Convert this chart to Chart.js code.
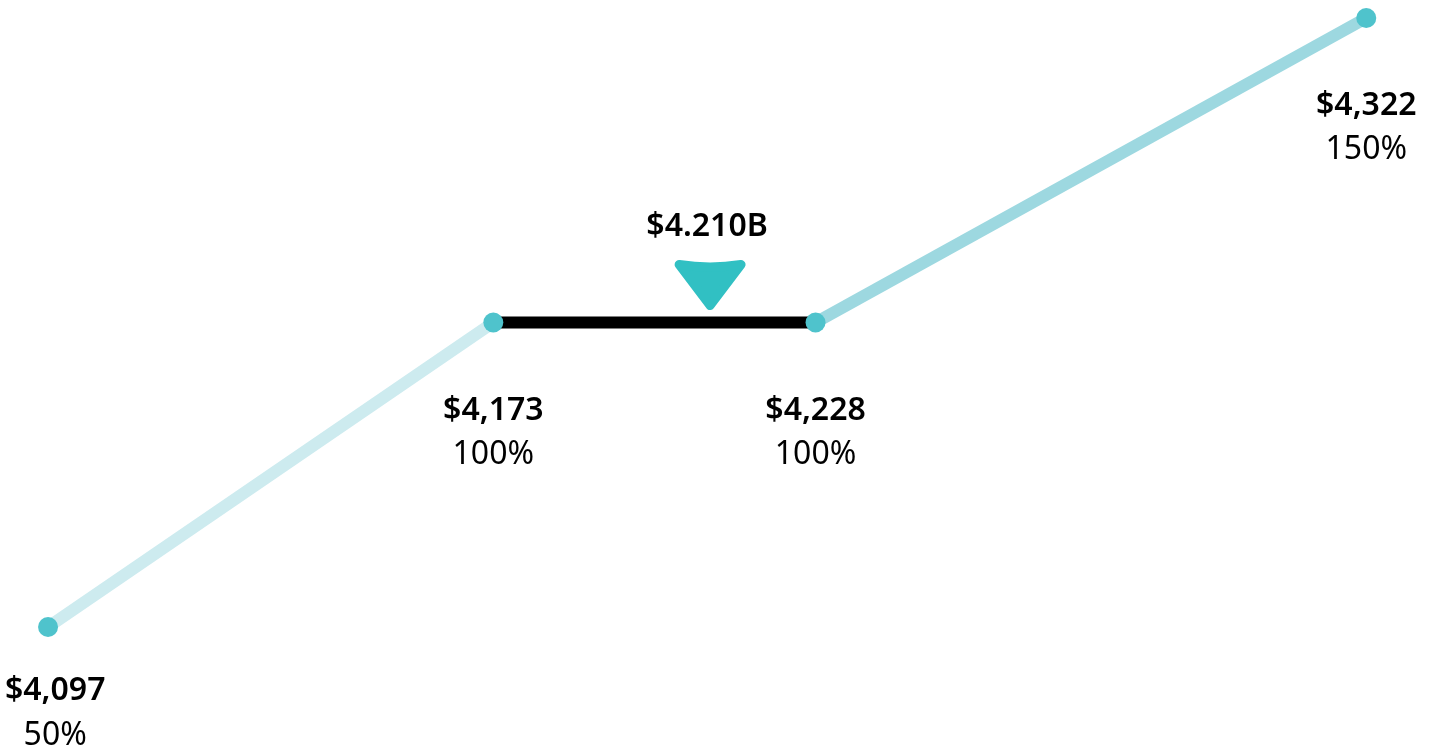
<!DOCTYPE html>
<html>
<head>
<meta charset="utf-8">
<script src="https://cdn.jsdelivr.net/npm/chart.js@4"></script>
<style>
  html, body { margin: 0; padding: 0; background: #fff; }
  #wrap { width: 1436px; height: 748px; }
</style>
</head>
<body>
<div id="wrap"><canvas id="rangeChart" width="1436" height="748"></canvas></div>
<script>
// values
const dollarValues = [4097, 4173, 4228, 4322];      // $M, along x
const percentValues = [50, 100, 100, 150];          // payout %, along y
const dollarLabels = ['$4,097', '$4,173', '$4,228', '$4,322'];
const percentLabels = ['50%', '100%', '100%', '150%'];
const segmentColors = ['#cdebef', '#000000', '#9dd8e0'];
const actualValue = 4210;
const actualLabel = '$4.210B';

const FONT = '"Noto Sans", "Open Sans", sans-serif';

// keep a centred label inside the canvas
function clampX(ctx, text, x, W) {
    const half = ctx.measureText(text).width / 2;
    return Math.max(half + 5, Math.min(W - half - 5, x));
}

// labels under each point + the marker for the actual result
const labelPlugin = {
    id: 'rangeLabels',
    afterDatasetsDraw(chart) {
        const ctx = chart.ctx;
        const meta = chart.getDatasetMeta(0);
        const H = chart.height, W = chart.width;
        ctx.save();
        ctx.textAlign = 'center';
        ctx.textBaseline = 'alphabetic';
        ctx.fillStyle = '#000';
        meta.data.forEach((pt, i) => {
            const b1 = Math.min(pt.y + 97, H - 48);
            const b2 = Math.min(pt.y + 141, H - 3);
            ctx.font = '600 32px ' + FONT;
            const lx = clampX(ctx, dollarLabels[i], pt.x, W);
            ctx.fillText(dollarLabels[i], lx, b1);
            ctx.font = '32px ' + FONT;
            ctx.fillText(percentLabels[i], lx, b2);
        });

        // actual marker: rounded triangle with concave top
        const xs = chart.scales.x, ys = chart.scales.y;
        const mx = xs.getPixelForValue(actualValue);
        const lineY = ys.getPixelForValue(100);
        const tipY = lineY - 12;
        const topY = tipY - 51;
        const hw = 36;
        ctx.fillStyle = '#31c0c3';
        ctx.strokeStyle = '#31c0c3';
        ctx.lineJoin = 'round';
        ctx.lineWidth = 9;
        ctx.beginPath();
        ctx.moveTo(mx - hw + 5, topY + 5);
        ctx.quadraticCurveTo(mx, topY + 10, mx + hw - 5, topY + 5);
        ctx.lineTo(mx, tipY - 5);
        ctx.closePath();
        ctx.fill();
        ctx.stroke();

        ctx.fillStyle = '#000';
        ctx.font = '600 32px ' + FONT;
        ctx.fillText(actualLabel, mx - 3, topY - 24);
        ctx.restore();
    }
};

const ctx = document.getElementById('rangeChart').getContext('2d');
const rangeChart = new Chart(ctx, {
    type: 'line',
    data: {
        datasets: [{
            data: dollarValues.map((v, i) => ({ x: v, y: percentValues[i] })),
            borderWidth: 12,
            borderCapStyle: 'butt',
            segment: {
                borderColor: c => segmentColors[c.p0DataIndex]
            },
            pointRadius: 10,
            pointHoverRadius: 10,
            pointBackgroundColor: '#4fc3cc',
            pointBorderWidth: 0,
            tension: 0,
            clip: false
        }]
    },
    options: {
        responsive: false,
        animation: false,
        layout: { padding: 0, autoPadding: false },
        plugins: { legend: { display: false }, tooltip: { enabled: false } },
        scales: {
            x: { type: 'linear', display: false, min: 4088.8, max: 4333.9 },
            y: { type: 'linear', display: false, min: 30.14, max: 152.96 }
        }
    },
    plugins: [labelPlugin]
});
</script>
</body>
</html>
